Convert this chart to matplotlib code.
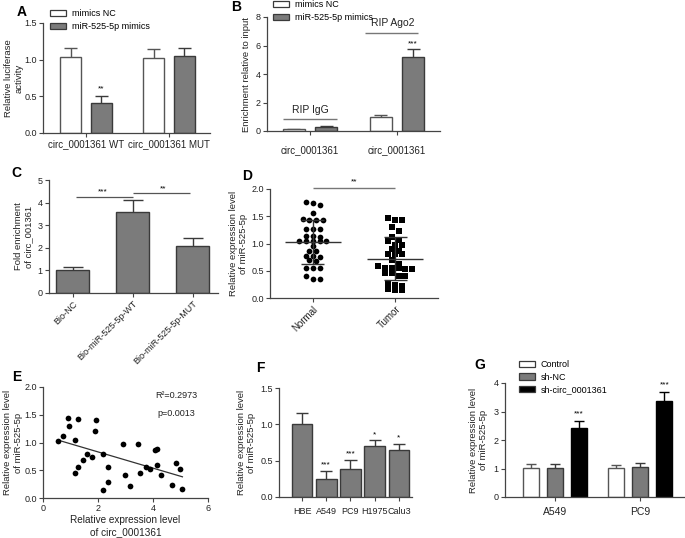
import numpy as np
import matplotlib.pyplot as plt
from matplotlib.patches import Patch

plt.rcParams['font.family'] = ['Liberation Sans', 'DejaVu Sans']
plt.rcParams['font.size'] = 6.5

# ---- data ----
# A: luciferase
a_groups = ['circ_0001361 WT', 'circ_0001361 MUT']
a_nc = [1.03, 1.02]
a_nc_err = [0.13, 0.13]
a_mim = [0.41, 1.05]
a_mim_err = [0.10, 0.11]

# B: RIP
b_groups = ['circ_0001361', 'circ_0001361']
b_nc = [0.12, 1.00]
b_nc_err = [0.04, 0.12]
b_mim = [0.25, 5.20]
b_mim_err = [0.10, 0.55]

# C: pull-down
c_labels = ['Bio-NC', 'Bio-miR-525-5p-WT', 'Bio-miR-525-5p-MUT']
c_vals = [1.02, 3.60, 2.07]
c_err = [0.12, 0.50, 0.38]

# D: tissue expression
d_normal = [1.77, 1.70, 1.75, 1.56, 1.43, 1.43, 1.43, 1.45, 1.26, 1.26, 1.26,
            1.14, 1.14, 1.12, 1.05, 1.04, 1.04, 1.04, 1.05, 0.95, 0.87, 0.87,
            0.77, 0.77, 0.76, 0.68, 0.69, 0.55, 0.55, 0.55, 0.41, 0.34, 0.34]
d_tumor = [1.43, 1.43, 1.46, 1.30, 1.23, 1.12, 1.04, 0.98, 0.98, 1.06, 0.89,
           0.87, 0.81, 0.81, 0.80, 0.69, 0.58, 0.53, 0.55, 0.55, 0.55, 0.63,
           0.53, 0.46, 0.41, 0.41, 0.45, 0.27, 0.24, 0.22, 0.15, 0.15, 0.16]

# E: correlation
e_x = [0.55, 0.73, 0.91, 0.95, 1.15, 1.27, 1.15, 1.27, 1.45, 1.60, 1.79, 1.92,
       1.88, 2.18, 2.36, 2.36, 2.18, 2.91, 2.97, 3.18, 3.45, 3.52, 3.76, 3.90,
       4.06, 4.15, 4.16, 4.28, 4.70, 4.82, 4.97, 5.07]
e_y = [1.02, 1.12, 1.44, 1.29, 1.05, 1.42, 0.45, 0.56, 0.68, 0.80, 0.74, 1.41,
       1.21, 0.80, 0.55, 0.29, 0.15, 0.98, 0.42, 0.22, 0.97, 0.45, 0.55, 0.53,
       0.86, 0.88, 0.60, 0.42, 0.24, 0.63, 0.53, 0.16]

# F: cell lines
f_labels = ['HBE', 'A549', 'PC9', 'H1975', 'Calu3']
f_vals = [1.01, 0.25, 0.39, 0.70, 0.64]
f_err = [0.14, 0.11, 0.12, 0.08, 0.09]
f_sig = ['', '***', '***', '*', '*']

# G: knockdown
g_groups = ['A549', 'PC9']
g_ctrl = [1.02, 1.01]
g_ctrl_err = [0.13, 0.13]
g_nc = [1.03, 1.06]
g_nc_err = [0.12, 0.12]
g_sh = [2.42, 3.37]
g_sh_err = [0.25, 0.32]

# ---- style ----
W, H = 685, 538
GRAY = '#7b7b7b'
EDGE = '#3a3a3a'
SPINE = '#444444'
TXT = '#222222'
YL = 6.8   # y label size

fig = plt.figure(figsize=(W / 100, H / 100), dpi=100)


def add_ax(left, top, right, bottom):
    return fig.add_axes([left / W, 1 - bottom / H, (right - left) / W, (bottom - top) / H])


def style(ax):
    for s in ['top', 'right']:
        ax.spines[s].set_visible(False)
    for s in ['left', 'bottom']:
        ax.spines[s].set_color(SPINE)
        ax.spines[s].set_linewidth(0.9)
    ax.tick_params(length=3, width=0.8, color=SPINE, labelsize=6.5, pad=1.5, labelcolor=TXT)


def bars(ax, x, h, err, width, color, edge=EDGE):
    x = np.asarray(x, float)
    h = np.asarray(h, float)
    err = np.asarray(err, float)
    ax.bar(x, h, width, color=color, edgecolor=edge, linewidth=1.0, zorder=2)
    ax.vlines(x, h, h + err, color=edge, lw=1.0, zorder=1)
    ax.hlines(h + err, x - width * 0.3, x + width * 0.3, color=edge, lw=1.0, zorder=1)


def letter(x, y, s):
    fig.text(x / W, 1 - y / H, s, fontsize=10, fontweight='bold', ha='center', va='center', color='black')


def legend(ax, labels, colors, x, y, spacing=0.45):
    handles = [Patch(facecolor=c, edgecolor=EDGE, linewidth=0.9) for c in colors]
    ax.legend(handles, labels, loc='upper left', bbox_to_anchor=(x / W, 1 - y / H),
              bbox_transform=fig.transFigure, frameon=False, fontsize=6.5,
              handlelength=1.8, handleheight=0.75, handletextpad=0.6,
              labelspacing=spacing, borderpad=0, borderaxespad=0)


def rows_offsets(vals, bin_h=0.075, step=0.082):
    # GraphPad-like scatter: points of similar value share a centred row
    vals = np.asarray(vals)
    order = np.argsort(vals)[::-1]
    offs = np.zeros(len(vals))
    row = []
    for i in list(order) + [None]:
        if i is None or (row and vals[row[0]] - vals[i] > bin_h):
            n = len(row)
            for k, j in enumerate(row):
                offs[j] = (k - (n - 1) / 2) * step
            row = []
        if i is not None:
            row.append(i)
    return offs


# ---- A ----
ax = add_ax(43, 23, 210, 133)
style(ax)
xa = np.arange(len(a_groups))
bars(ax, xa - 0.185, a_nc, a_nc_err, 0.25, 'white', '#555555')
bars(ax, xa + 0.185, a_mim, a_mim_err, 0.25, GRAY)
ax.text(xa[0] + 0.185, a_mim[0] + a_mim_err[0] + 0.04, '**', ha='center', va='bottom', fontsize=6)
ax.set_xlim(-0.518, 1.494)
ax.set_ylim(0, 1.5)
ax.set_yticks([0, 0.5, 1.0, 1.5])
ax.set_xticks(xa)
ax.set_xticklabels(a_groups, fontsize=7)
ax.set_ylabel('Relative luciferase\nactivity', fontsize=YL, color=TXT)
ax.yaxis.set_label_coords(-0.115, 0.5)
legend(ax, ['mimics NC', 'miR-525-5p mimics'], ['white', GRAY], 50, 9)
letter(22, 12, 'A')

# ---- B ----
ax = add_ax(267, 17, 440, 131)
style(ax)
xb = np.arange(len(b_groups))
bars(ax, xb - 0.185, b_nc, b_nc_err, 0.25, 'white', '#555555')
bars(ax, xb + 0.185, b_mim, b_mim_err, 0.25, GRAY)
ax.text(xb[1] + 0.185, b_mim[1] + b_mim_err[1] + 0.15, '***', ha='center', va='bottom', fontsize=6)
ax.hlines(0.84, xb[0] - 0.31, xb[0] + 0.31, color='#777777', lw=1)
ax.text(xb[0], 1.15, 'RIP IgG', ha='center', va='bottom', fontsize=7.5, color=TXT)
ax.hlines(6.9, xb[1] - 0.37, xb[1] + 0.24, color='#777777', lw=1)
ax.text(xb[1] - 0.05, 7.2, 'RIP Ago2', ha='center', va='bottom', fontsize=7.5, color=TXT)
ax.set_xlim(-0.494, 1.494)
ax.set_ylim(0, 8)
ax.set_yticks([0, 2, 4, 6, 8])
ax.set_xticks(xb)
ax.set_xticklabels(b_groups, fontsize=7)
ax.tick_params(axis='x', pad=7)
ax.set_ylabel('Enrichment relative to input', fontsize=YL, color=TXT, labelpad=3)
legend(ax, ['mimics NC', 'miR-525-5p mimics'], ['white', GRAY], 273, 0)
letter(236, 7, 'B')

# ---- C ----
ax = add_ax(49, 180, 218, 293)
style(ax)
xc = np.arange(len(c_labels))
bars(ax, xc, c_vals, c_err, 0.55, GRAY)
ax.hlines(4.26, xc[0] + 0.05, xc[1], color='#555555', lw=0.9, clip_on=False)
ax.text((xc[0] + xc[1]) / 2, 4.3, '***', ha='center', va='bottom', fontsize=6)
ax.hlines(4.41, xc[1], xc[2] - 0.05, color='#555555', lw=0.9, clip_on=False)
ax.text((xc[1] + xc[2]) / 2, 4.45, '**', ha='center', va='bottom', fontsize=6)
ax.set_xlim(-0.4, 2.42)
ax.set_ylim(0, 5)
ax.set_yticks(range(6))
ax.set_xticks(xc)
ax.set_xticklabels(c_labels, rotation=45, ha='right', rotation_mode='anchor', fontsize=6.5)
ax.set_ylabel('Fold enrichment\nof circ_001361', fontsize=YL, color=TXT, labelpad=3)
letter(16, 173, 'C')

# ---- D ----
ax = add_ax(270, 189, 438, 298)
style(ax)
for i, (vals, mk, sz) in enumerate([(d_normal, 'o', 17), (d_tumor, 's', 14)]):
    v = np.array(vals)
    ax.scatter(i + rows_offsets(v), v, s=sz, marker=mk, color='black', linewidths=0, zorder=3)
    m, sd = v.mean(), v.std(ddof=1)
    ax.hlines(m, i - 0.34, i + 0.34, color='#333333', lw=1, zorder=4)
    ax.hlines([m - sd, m + sd], i - 0.14, i + 0.14, color='#333333', lw=1, zorder=4)
    ax.vlines(i, m - sd, m + sd, color='#333333', lw=1, zorder=4)
ax.hlines(2.02, 0, 1, color='#777777', lw=1, clip_on=False)
ax.text(0.5, 2.07, '**', ha='center', va='bottom', fontsize=6)
ax.set_xlim(-0.52, 1.52)
ax.set_ylim(0, 2.0)
ax.set_yticks([0, 0.5, 1.0, 1.5, 2.0])
ax.set_xticks([0, 1])
ax.set_xticklabels(['Normal', 'Tumor'], rotation=45, ha='right', rotation_mode='anchor', fontsize=7)
ax.set_ylabel('Relative expression level\nof miR-525-5p', fontsize=YL, color=TXT, labelpad=2)
letter(247, 176, 'D')

# ---- E ----
ax = add_ax(43, 387, 208, 498)
style(ax)
ax.scatter(e_x, e_y, s=17, color='black', linewidths=0, zorder=3)
k, b0 = np.polyfit(e_x, e_y, 1)
xs = np.array([min(e_x), max(e_x)])
ax.plot(xs, k * xs + b0, color='#333333', lw=0.9)
ax.text(4.85, 1.85, 'R\u00b2=0.2973', ha='center', va='center', fontsize=6.5, color=TXT)
ax.text(4.85, 1.53, 'p=0.0013', ha='center', va='center', fontsize=6.5, color=TXT)
ax.set_xlim(0, 6)
ax.set_ylim(0, 2.0)
ax.set_xticks([0, 2, 4, 6])
ax.set_yticks([0, 0.5, 1.0, 1.5, 2.0])
ax.set_xlabel('Relative expression level\nof circ_0001361', fontsize=7.2, color=TXT,
              labelpad=1, linespacing=1.25)
ax.set_ylabel('Relative expression level\nof miR-525-5p', fontsize=YL, color=TXT, labelpad=1)
letter(17, 377, 'E')

# ---- F ----
ax = add_ax(279, 388, 412, 497)
style(ax)
xf = np.arange(len(f_labels))
bars(ax, xf, f_vals, f_err, 0.85, GRAY)
for x, v, e, s in zip(xf, f_vals, f_err, f_sig):
    if s:
        ax.text(x, v + e + 0.03, s, ha='center', va='bottom', fontsize=6)
ax.set_xlim(-0.95, 4.54)
ax.set_ylim(0, 1.5)
ax.set_yticks([0, 0.5, 1.0, 1.5])
ax.set_xticks(xf)
ax.set_xticklabels(f_labels, fontsize=6.5)
ax.tick_params(axis='x', pad=4)
ax.set_ylabel('Relative expression level\nof miR-525-5p', fontsize=YL, color=TXT, labelpad=3)
letter(260, 368, 'F')

# ---- G ----
ax = add_ax(505, 383, 684, 497)
style(ax)
xg = np.arange(len(g_groups))
bars(ax, xg - 0.28, g_ctrl, g_ctrl_err, 0.19, 'white', '#555555')
bars(ax, xg, g_nc, g_nc_err, 0.19, GRAY)
bars(ax, xg + 0.28, g_sh, g_sh_err, 0.19, 'black', 'black')
for x, v, e in zip(xg, g_sh, g_sh_err):
    ax.text(x + 0.28, v + e + 0.12, '***', ha='center', va='bottom', fontsize=6, clip_on=False)
ax.set_xlim(-0.58, 1.51)
ax.set_ylim(0, 4)
ax.set_yticks(range(5))
ax.set_xticks(xg)
ax.set_xticklabels(g_groups, fontsize=7.5)
ax.tick_params(axis='x', pad=4)
ax.set_ylabel('Relative expression level\nof miR-525-5p', fontsize=YL, color=TXT, labelpad=4)
legend(ax, ['Control', 'sh-NC', 'sh-circ_0001361'], ['white', GRAY, 'black'], 519, 360, spacing=0.4)
letter(480, 365, 'G')

fig.savefig('out.png', dpi=100)
